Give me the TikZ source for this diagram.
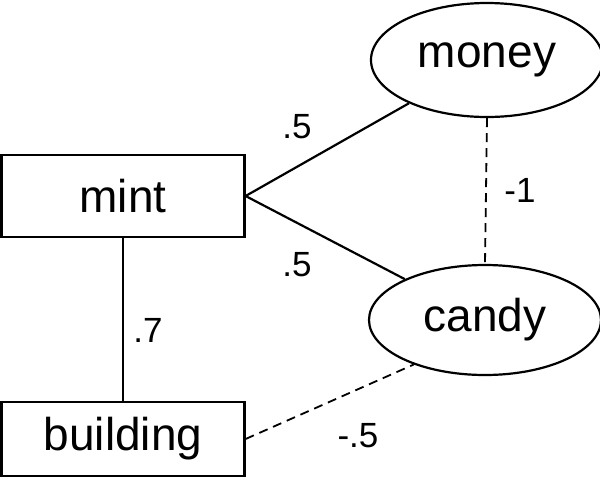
\documentclass[tikz,border=0pt]{standalone}
\usepackage{fontspec}
\setmainfont{Liberation Sans}
\usetikzlibrary{shapes.geometric}
\begin{document}
\begin{tikzpicture}[x=1pt,y=-1pt,
  box/.style={draw,line width=2.2pt,minimum width=243pt,inner sep=0pt,font=\fontsize{46}{50}\selectfont},
  oval/.style={draw,ellipse,line width=2.2pt,minimum width=232pt,minimum height=112pt,inner sep=0pt,font=\fontsize{46}{50}\selectfont},
  lab/.style={font=\fontsize{35}{40}\selectfont},
  link/.style={line width=2.2pt},
  dlink/.style={line width=1.8pt,dash pattern=on 9pt off 6pt}]
\useasboundingbox[fill=white] (0,0) rectangle (600,483);
\node[box,minimum height=82pt] (mint) at (123,196) {mint};
\node[box,minimum height=74pt] (building) at (123,439) {building};
\node[oval,minimum height=114pt] (money) at (487,60) {money};
\node[oval,minimum height=110pt] (candy) at (485,320) {candy};
\draw[link] (mint.east) -- (money.209);
\draw[link] (mint.east) -- (candy.153);
\draw[dlink] (money.south) -- (candy.north);
\draw[link] (mint.south) -- (building.north);
\draw[dlink] (building.east) -- (candy.212);
\node[lab] (l1) at (297,127) {.5};
\node[lab] (l2) at (297,265) {.5};
\node[lab] (l3) at (520,190) {-1};
\node[lab] (l4) at (148,330) {.7};
\node[lab] (l5) at (358,436) {-.5};
\end{tikzpicture}
\end{document}
